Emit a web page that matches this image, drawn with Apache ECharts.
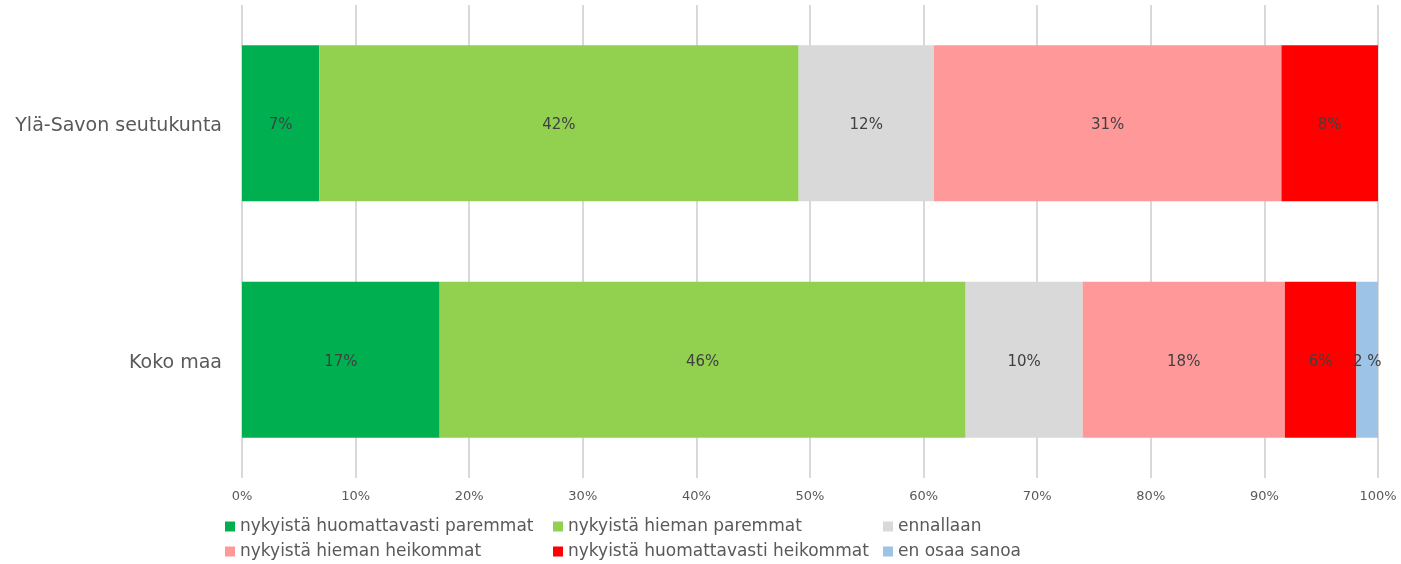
<!DOCTYPE html>
<html>
<head>
<meta charset="utf-8">
<script src="https://cdn.jsdelivr.net/npm/echarts@6/dist/echarts.min.js"></script>
<style>
  html, body { margin: 0; padding: 0; background: #fff; }
  #chart { width: 1401px; height: 564px; }
</style>
</head>
<body>
<div id="chart"></div>
<script>
const categories = ['Ylä-Savon seutukunta', 'Koko maa']
const seriesNames = [
  'nykyistä huomattavasti paremmat',
  'nykyistä hieman paremmat',
  'ennallaan',
  'nykyistä hieman heikommat',
  'nykyistä huomattavasti heikommat',
  'en osaa sanoa'
]
const seriesColors = ['#00b050', '#92d050', '#d9d9d9', '#ff9999', '#ff0000', '#9dc3e6']
// share per category (percent)
const muchBetter = [6.8, 17.4]
const slightlyBetter = [42.2, 46.3]
const unchanged = [11.9, 10.3]
const slightlyWorse = [30.6, 17.8]
const muchWorse = [8.5, 6.3]
const cannotSay = [0, 1.9]
// label texts as printed on the bars
const muchBetterLabels = ['7%', '17%']
const slightlyBetterLabels = ['42%', '46%']
const unchangedLabels = ['12%', '10%']
const slightlyWorseLabels = ['31%', '18%']
const muchWorseLabels = ['8%', '6%']
const cannotSayLabels = ['', '2 %']

const values = [muchBetter, slightlyBetter, unchanged, slightlyWorse, muchWorse, cannotSay]
const labels = [muchBetterLabels, slightlyBetterLabels, unchangedLabels, slightlyWorseLabels, muchWorseLabels, cannotSayLabels]

const font = 'DejaVu Sans, Verdana, sans-serif'
const legendPos = [
  {left: 220, top: 513}, {left: 548, top: 513}, {left: 878, top: 513},
  {left: 220, top: 538}, {left: 548, top: 538}, {left: 878, top: 538}
]

const chart = echarts.init(document.getElementById('chart'))
chart.setOption({
  animation: false,
  grid: {left: 242, right: 23, top: 5, bottom: 86},
  xAxis: {
    type: 'value',
    min: 0,
    max: 100,
    interval: 10,
    axisLine: {show: false},
    axisTick: {show: false},
    axisLabel: {formatter: '{value}%', color: '#595959', fontSize: 13, fontFamily: font, margin: 12},
    splitLine: {lineStyle: {color: '#d9d9d9', width: 2}}
  },
  yAxis: {
    type: 'category',
    data: categories,
    inverse: true,
    axisLine: {show: false},
    axisTick: {show: false},
    axisLabel: {color: '#595959', fontSize: 19, fontFamily: font, margin: 20, lineHeight: 30, verticalAlign: 'top', padding: [-12, 0, 0, 0]}
  },
  legend: legendPos.map((p, i) => ({
    data: [seriesNames[i]],
    left: p.left,
    top: p.top,
    itemWidth: 10,
    itemHeight: 10,
    icon: 'rect',
    textStyle: {color: '#595959', fontSize: 17, fontFamily: font}
  })),
  series: seriesNames.map((name, i) => ({
    name: name,
    type: 'bar',
    stack: 'total',
    barWidth: '66%',
    itemStyle: {color: seriesColors[i]},
    label: {
      show: true,
      position: 'inside',
      offset: [0, 2],
      color: '#404040',
      fontSize: 15,
      fontFamily: font,
      formatter: p => labels[i][p.dataIndex]
    },
    data: values[i]
  }))
})
</script>
</body>
</html>
